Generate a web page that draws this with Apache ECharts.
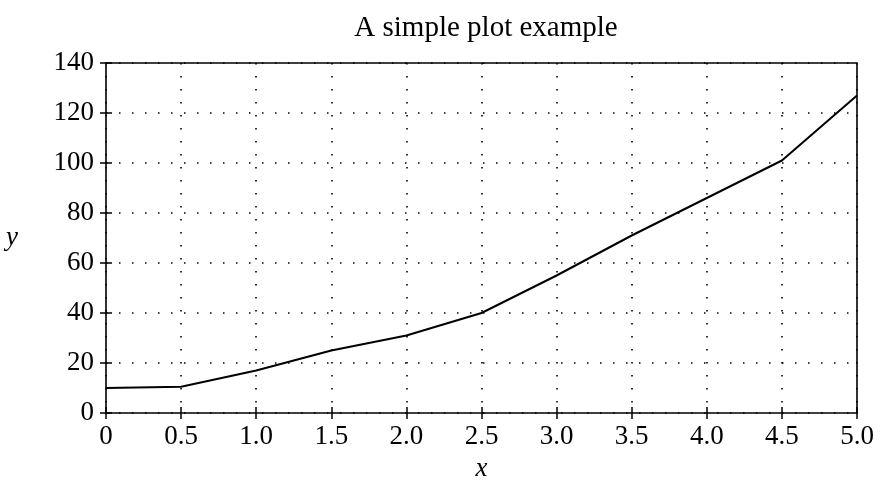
<!DOCTYPE html>
<html>
<head>
<meta charset="utf-8">
<script src="https://cdn.jsdelivr.net/npm/echarts@6/dist/echarts.min.js"></script>
<style>
  html, body { margin: 0; padding: 0; background: #fff; }
  #chart { width: 881px; height: 484px; }
</style>
</head>
<body>
<div id="chart"></div>
<script>
  const xValues = [0, 0.5, 1.0, 1.5, 2.0, 2.5, 3.0, 3.5, 4.0, 4.5, 5.0];
  const yValues = [10, 10.5, 17, 25, 31, 40, 55, 71, 86, 101, 127];
  const titleText = "A simple plot example";

  const chart = echarts.init(document.getElementById("chart"));
  const serif = "'Liberation Serif', 'DejaVu Serif', serif";
  const dotted = { color: "#000", width: 1.6, type: [1.5, 11.5] };
  const tick = { inside: true, length: 6, lineStyle: { color: "#000", width: 1.5 } };

  chart.setOption({
    animation: false,
    title: {
      text: titleText, left: 481, top: 9, textAlign: "center",
      textStyle: { fontFamily: serif, fontSize: 29, fontWeight: "normal", color: "#000" }
    },
    grid: { left: 106, right: 24, top: 63, bottom: 71, outerBoundsMode: "none", containLabel: false,
      show: true, borderColor: "#000", borderWidth: 1.6 },
    xAxis: [{
      type: "value", min: 0, max: 5, interval: 0.5,
      name: "x", nameLocation: "middle", nameGap: 42,
      nameTextStyle: { fontFamily: serif, fontStyle: "italic", fontSize: 27, color: "#000" },
      axisLine: { show: false },
      axisTick: tick,
      axisLabel: { fontFamily: serif, fontSize: 27, color: "#000", margin: 10,
        formatter: (v) => v === 0 ? "0" : v.toFixed(1) },
      splitLine: { show: true, lineStyle: dotted }
    }, {
      type: "value", min: 0, max: 5, interval: 0.5, position: "top",
      axisLine: { show: false }, axisLabel: { show: false }, splitLine: { show: false },
      axisTick: tick
    }],
    yAxis: [{
      type: "value", min: 0, max: 140, interval: 20,
      name: "y", nameLocation: "middle", nameGap: 88, nameRotate: 0,
      nameTextStyle: { fontFamily: serif, fontStyle: "italic", fontSize: 27, color: "#000" },
      axisLine: { show: false },
      axisTick: tick,
      axisLabel: { fontFamily: serif, fontSize: 27, color: "#000", margin: 12 },
      splitLine: { show: true, lineStyle: dotted }
    }, {
      type: "value", min: 0, max: 140, interval: 20, position: "right",
      axisLine: { show: false }, axisLabel: { show: false }, splitLine: { show: false },
      axisTick: tick
    }],
    series: [{
      type: "line", showSymbol: false,
      data: xValues.map((x, i) => [x, yValues[i]]),
      lineStyle: { color: "#000", width: 2 }
    }]
  });
</script>
</body>
</html>
